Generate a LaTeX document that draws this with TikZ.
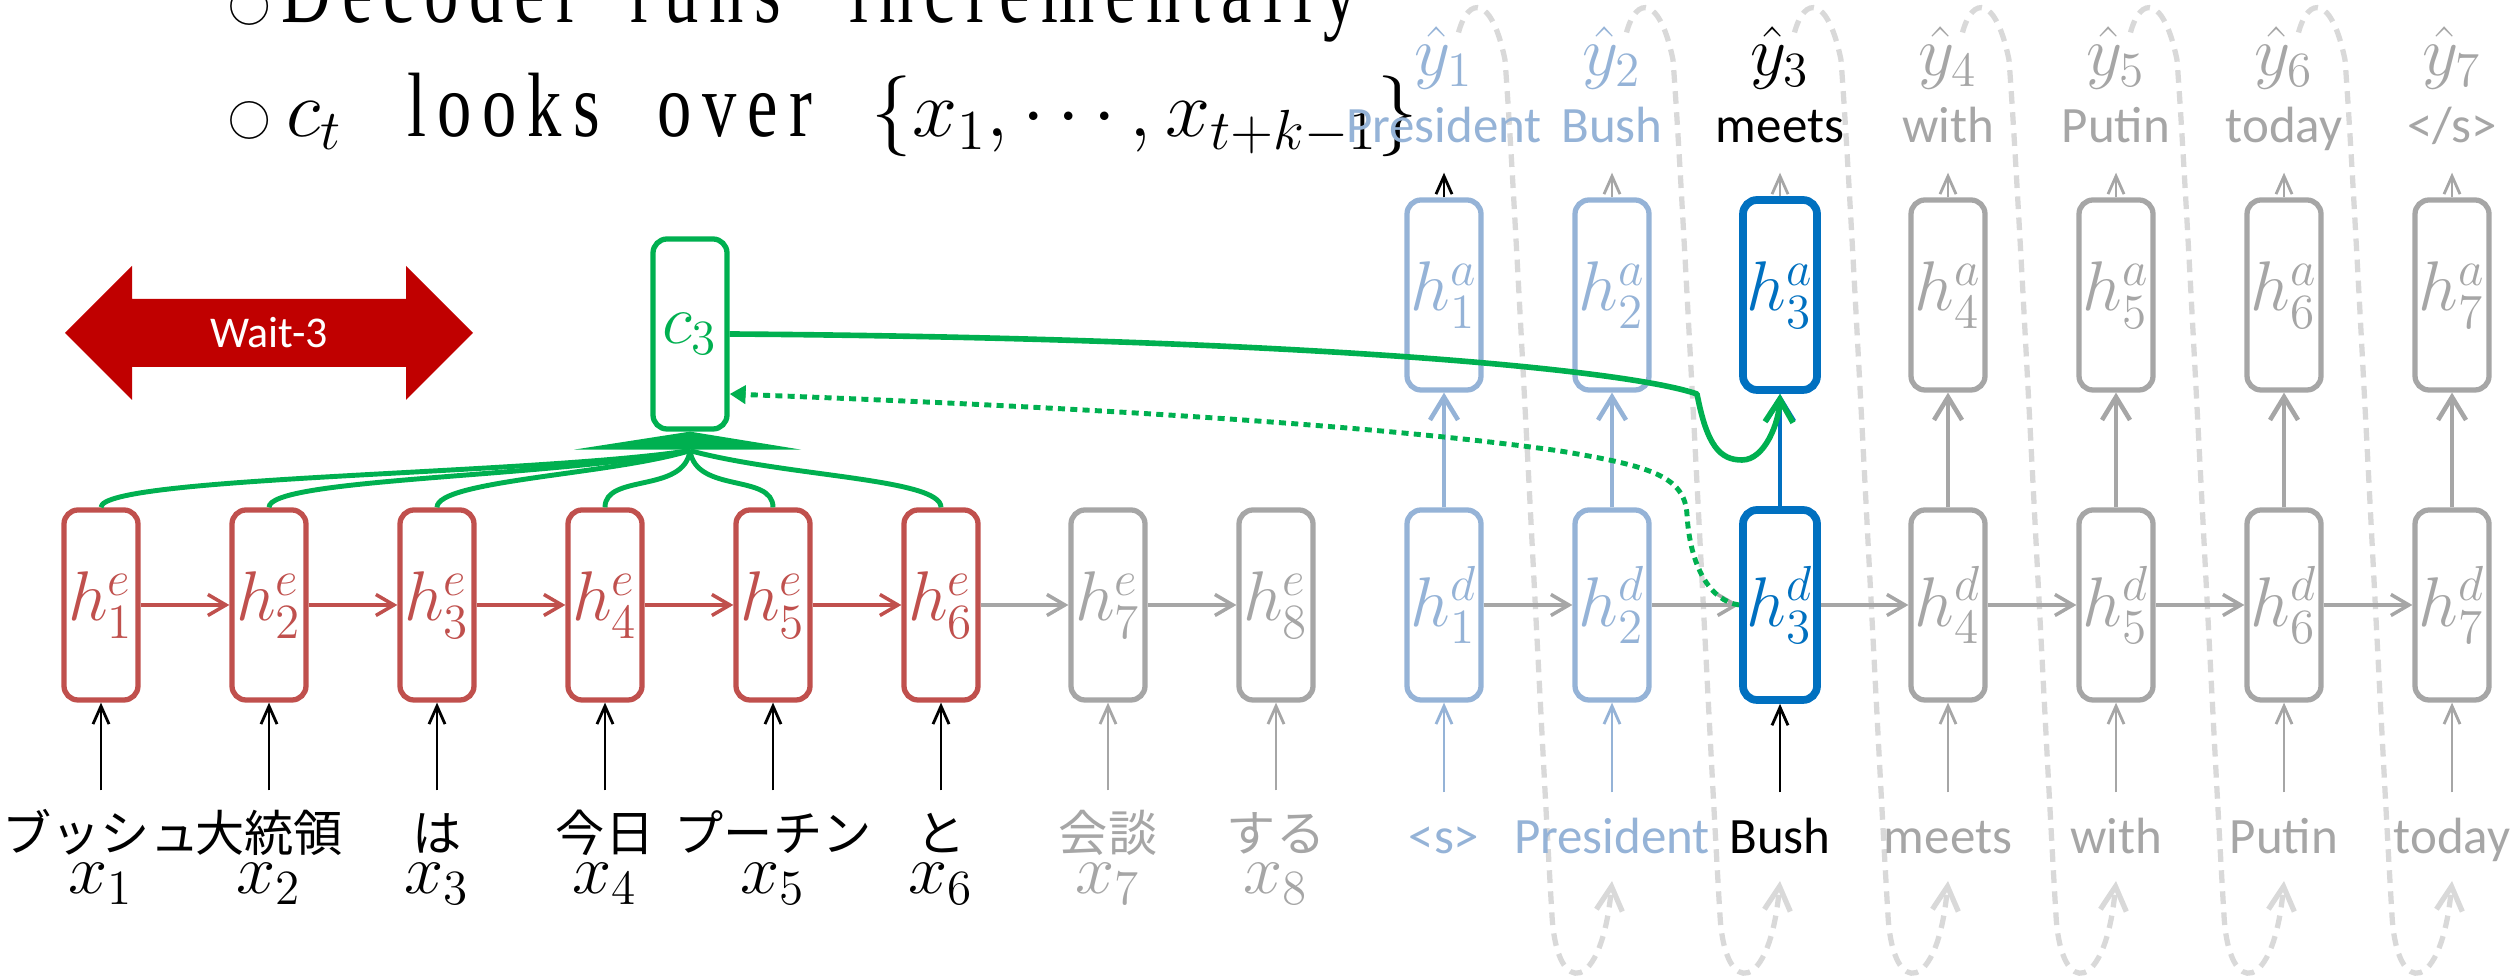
\RequirePackage{fix-cm}
\documentclass[tikz,border=0pt]{standalone}
\usepackage{fontspec}
\setmainfont{Carlito}
\newfontfamily\jpfont{Noto Sans CJK JP}
\newfontfamily\titlefont[FakeStretch=0.75]{Liberation Serif}
\usepackage{xcolor}
\usepackage{tikz}
\usetikzlibrary{arrows.meta,calc,backgrounds}

\definecolor{encred}{HTML}{C0504D}
\definecolor{idlegray}{HTML}{A6A6A6}
\definecolor{doneblue}{HTML}{95B3D7}
\definecolor{nowblue}{HTML}{0070C0}
\definecolor{ctxgreen}{HTML}{00B050}
\definecolor{waitred}{HTML}{C00000}
\definecolor{fadegray}{HTML}{D9D9D9}

% spaced-out letters for the slide text
\newcommand\spreadword[1]{\spreadloop#1\relax}
\def\spreadloop#1{\ifx#1\relax\else#1\kern3.1pt\expandafter\spreadloop\fi}

\begin{document}
\begin{tikzpicture}[
		cell/.style={draw, fill=white, line width=1.5pt, rounded corners=4pt,
				minimum width=0.74cm, minimum height=1.9cm, inner sep=0pt, font=\fontsize{20}{22}\selectfont},
		encbox/.style={cell, draw=encred, text=encred},
		idlebox/.style={cell, draw=idlegray, text=idlegray},
		donebox/.style={cell, draw=doneblue, text=doneblue},
		nowbox/.style={cell, draw=nowblue, text=nowblue, line width=2.2pt},
		ctxbox/.style={cell, draw=ctxgreen, text=ctxgreen},
		jpword/.style={font=\jpfont\fontsize{14}{16}\selectfont, anchor=base, inner sep=0pt, text height=0.61cm},
		inword/.style={font=\fontsize{14.5}{17}\selectfont, anchor=base, inner sep=0pt, text height=0.61cm},
		outword/.style={font=\fontsize{14.5}{17}\selectfont, anchor=base, inner sep=0pt, text depth=0.29cm},
		sym/.style={font=\fontsize{20}{22}\selectfont, anchor=base, inner sep=0pt},
		bigtext/.style={font=\titlefont\fontsize{26}{30}\selectfont, anchor=base west, inner sep=0pt},
		bigmath/.style={font=\fontsize{23}{28}\selectfont, anchor=base west, inner sep=0pt},
		ring/.style={font=\jpfont\fontsize{12}{14}\selectfont, anchor=base west, inner sep=0pt},
		ar/.style={-{Straight Barb[length=1.8mm,width=2.1mm]}, line width=1pt},
		inar/.style={-{Straight Barb[length=1.8mm,width=1.6mm]}, line width=0.8pt},
		upar/.style={-{Straight Barb[length=2.3mm,width=2.8mm]}, line width=1.3pt},
		fanline/.style={draw=ctxgreen, line width=1.4pt},
		gar/.style={draw=ctxgreen, line width=1.6pt, line join=round, -{Straight Barb[length=2.3mm,width=2.8mm]}},
		dotar/.style={draw=ctxgreen, line width=1.4pt, dash pattern=on 2pt off 1.5pt, -{Triangle[length=1.6mm,width=1.8mm]}},
		feedback/.style={draw=fadegray, line width=1.5pt, dash pattern=on 3.6pt off 2.4pt, -{Straight Barb[length=2.4mm,width=2.6mm]}},
	]
	\useasboundingbox (0,0) rectangle (25.2,9.76);
	\clip (0,0) rectangle (25.2,9.76);

	\node[ring]    (dot1)  at (2.28,9.53) {○};
	\node[bigtext] (dec)   at (2.81,9.53) {\spreadword{Decoder}};
	\node[bigtext] (runs)  at (6.30,9.53) {\spreadword{runs}};
	\node[bigtext] (incr)  at (8.49,9.53) {\spreadword{incrementally}};
	\node[ring]    (dot2)  at (2.28,8.39) {○};
	\node[bigmath] (ct)    at (2.86,8.39) {$c_t$};
	\node[bigtext] (looks) at (4.07,8.39) {\spreadword{looks}};
	\node[bigtext] (over)  at (6.57,8.39) {\spreadword{over}};
	\node[bigmath] (span)  at (8.71,8.39) {$\{x_1,\cdots,x_{t+k-1}\}$};

	\fill[waitred] (0.65,6.43) -- (1.32,7.10) -- (1.32,6.77) -- (4.06,6.77) -- (4.06,7.10)
		-- (4.73,6.43) -- (4.06,5.76) -- (4.06,6.09) -- (1.32,6.09) -- (1.32,5.76) -- cycle;
	\node[font=\fontsize{12.5}{14}\selectfont, text=white] (wait) at (2.69,6.43) {Wait-3};

	\node[encbox]  (he1) at ( 1.01,3.71) {$h^e_1$};
	\node[encbox]  (he2) at ( 2.69,3.71) {$h^e_2$};
	\node[encbox]  (he3) at ( 4.37,3.71) {$h^e_3$};
	\node[encbox]  (he4) at ( 6.05,3.71) {$h^e_4$};
	\node[encbox]  (he5) at ( 7.73,3.71) {$h^e_5$};
	\node[encbox]  (he6) at ( 9.41,3.71) {$h^e_6$};
	\node[idlebox] (he7) at (11.08,3.71) {$h^e_7$};
	\node[idlebox] (he8) at (12.76,3.71) {$h^e_8$};
	\draw[ar, encred] (he1) -- (he2);
	\draw[ar, encred] (he2) -- (he3);
	\draw[ar, encred] (he3) -- (he4);
	\draw[ar, encred] (he4) -- (he5);
	\draw[ar, encred] (he5) -- (he6);
	\draw[ar, idlegray] (he6) -- (he7);
	\draw[ar, idlegray] (he7) -- (he8);

	\node[jpword] (w1) at ( 1.01,1.24) {ブッシュ};
	\node[jpword] (w2) at ( 2.69,1.24) {大統領};
	\node[jpword] (w3) at ( 4.37,1.24) {は};
	\node[jpword] (w4) at ( 6.05,1.24) {今日};
	\node[jpword] (w5) at ( 7.73,1.24) {プーチン};
	\node[jpword] (w6) at ( 9.41,1.24) {と};
	\node[jpword, text=idlegray] (w7) at (11.08,1.24) {会談};
	\node[jpword, text=idlegray] (w8) at (12.76,1.24) {する};
	\node[sym] (x1) at ( 1.01,0.82) {$x_1$};
	\node[sym] (x2) at ( 2.69,0.82) {$x_2$};
	\node[sym] (x3) at ( 4.37,0.82) {$x_3$};
	\node[sym] (x4) at ( 6.05,0.82) {$x_4$};
	\node[sym] (x5) at ( 7.73,0.82) {$x_5$};
	\node[sym] (x6) at ( 9.41,0.82) {$x_6$};
	\node[sym, text=idlegray] (x7) at (11.08,0.82) {$x_7$};
	\node[sym, text=idlegray] (x8) at (12.76,0.82) {$x_8$};
	\draw[inar] (w1) -- (he1);
	\draw[inar] (w2) -- (he2);
	\draw[inar] (w3) -- (he3);
	\draw[inar] (w4) -- (he4);
	\draw[inar] (w5) -- (he5);
	\draw[inar] (w6) -- (he6);
	\draw[inar, idlegray] (w7) -- (he7);
	\draw[inar, idlegray] (w8) -- (he8);

	\node[donebox] (hd1) at (14.44,3.71) {$h^d_1$};
	\node[donebox] (hd2) at (16.12,3.71) {$h^d_2$};
	\node[nowbox]  (hd3) at (17.80,3.71) {$h^d_3$};
	\node[idlebox] (hd4) at (19.48,3.71) {$h^d_4$};
	\node[idlebox] (hd5) at (21.16,3.71) {$h^d_5$};
	\node[idlebox] (hd6) at (22.84,3.71) {$h^d_6$};
	\node[idlebox] (hd7) at (24.52,3.71) {$h^d_7$};
	\node[donebox] (ha1) at (14.44,6.81) {$h^a_1$};
	\node[donebox] (ha2) at (16.12,6.81) {$h^a_2$};
	\node[nowbox]  (ha3) at (17.80,6.81) {$h^a_3$};
	\node[idlebox] (ha4) at (19.48,6.81) {$h^a_4$};
	\node[idlebox] (ha5) at (21.16,6.81) {$h^a_5$};
	\node[idlebox] (ha6) at (22.84,6.81) {$h^a_6$};
	\node[idlebox] (ha7) at (24.52,6.81) {$h^a_7$};
	\draw[ar, idlegray] (hd1) -- (hd2);
	\draw[ar, idlegray] (hd2) -- (hd3);
	\draw[ar, idlegray] (hd3) -- (hd4);
	\draw[ar, idlegray] (hd4) -- (hd5);
	\draw[ar, idlegray] (hd5) -- (hd6);
	\draw[ar, idlegray] (hd6) -- (hd7);
	\draw[upar, doneblue] (hd1) -- (ha1);
	\draw[upar, doneblue] (hd2) -- (ha2);
	\draw[upar, nowblue]  (hd3) -- (ha3);
	\draw[upar, idlegray] (hd4) -- (ha4);
	\draw[upar, idlegray] (hd5) -- (ha5);
	\draw[upar, idlegray] (hd6) -- (ha6);
	\draw[upar, idlegray] (hd7) -- (ha7);

	\node[inword, text=doneblue] (i1) at (14.44,1.22) {<s>};
	\node[inword, text=doneblue] (i2) at (16.12,1.22) {President};
	\node[inword]                (i3) at (17.80,1.22) {Bush};
	\node[inword, text=idlegray] (i4) at (19.48,1.22) {meets};
	\node[inword, text=idlegray] (i5) at (21.16,1.22) {with};
	\node[inword, text=idlegray] (i6) at (22.84,1.22) {Putin};
	\node[inword, text=idlegray] (i7) at (24.52,1.22) {today};
	\draw[inar, doneblue] (i1) -- (hd1);
	\draw[inar, doneblue] (i2) -- (hd2);
	\draw[inar]           (i3) -- (hd3);
	\draw[inar, idlegray] (i4) -- (hd4);
	\draw[inar, idlegray] (i5) -- (hd5);
	\draw[inar, idlegray] (i6) -- (hd6);
	\draw[inar, idlegray] (i7) -- (hd7);

	\node[outword, text=doneblue] (o1) at (14.44,8.33) {President};
	\node[outword, text=doneblue] (o2) at (16.12,8.33) {Bush};
	\node[outword]                (o3) at (17.80,8.33) {meets};
	\node[outword, text=idlegray] (o4) at (19.48,8.33) {with};
	\node[outword, text=idlegray] (o5) at (21.16,8.33) {Putin};
	\node[outword, text=idlegray] (o6) at (22.84,8.33) {today};
	\node[outword, text=idlegray] (o7) at (24.52,8.33) {</s>};
	\node[sym, text=doneblue] (yh1) at (14.44,9.0) {$\hat{y}_1$};
	\node[sym, text=doneblue] (yh2) at (16.12,9.0) {$\hat{y}_2$};
	\node[sym]                (yh3) at (17.80,9.0) {$\hat{y}_3$};
	\node[sym, text=idlegray] (yh4) at (19.48,9.0) {$\hat{y}_4$};
	\node[sym, text=idlegray] (yh5) at (21.16,9.0) {$\hat{y}_5$};
	\node[sym, text=idlegray] (yh6) at (22.84,9.0) {$\hat{y}_6$};
	\node[sym, text=idlegray] (yh7) at (24.52,9.0) {$\hat{y}_7$};
	\draw[inar]           (ha1) -- (o1);
	\draw[inar, idlegray] (ha2) -- (o2);
	\draw[inar, idlegray] (ha3) -- (o3);
	\draw[inar, idlegray] (ha4) -- (o4);
	\draw[inar, idlegray] (ha5) -- (o5);
	\draw[inar, idlegray] (ha6) -- (o6);
	\draw[inar, idlegray] (ha7) -- (o7);

	\begin{scope}[on background layer]
		\draw[feedback] ($(yh1.north)+(0.145,-0.06)$) .. controls +(0.10,0.37) and +(-0.13,0.64) .. (15.05,9.16)
			.. controls +(0.11,-1.45) and +(-0.11,1.82) .. (15.52,0.60)
			.. controls +(0.05,-0.84) and +(-0.10,-1.11) .. ($(i2.base)+(0,-0.27)$);
		\draw[feedback] ($(yh2.north)+(0.145,-0.06)$) .. controls +(0.10,0.37) and +(-0.13,0.64) .. (16.73,9.16)
			.. controls +(0.11,-1.45) and +(-0.11,1.82) .. (17.20,0.60)
			.. controls +(0.05,-0.84) and +(-0.10,-1.11) .. ($(i3.base)+(0,-0.27)$);
		\draw[feedback] ($(yh3.north)+(0.145,-0.06)$) .. controls +(0.10,0.37) and +(-0.13,0.64) .. (18.41,9.16)
			.. controls +(0.11,-1.45) and +(-0.11,1.82) .. (18.88,0.60)
			.. controls +(0.05,-0.84) and +(-0.10,-1.11) .. ($(i4.base)+(0,-0.27)$);
		\draw[feedback] ($(yh4.north)+(0.145,-0.06)$) .. controls +(0.10,0.37) and +(-0.13,0.64) .. (20.09,9.16)
			.. controls +(0.11,-1.45) and +(-0.11,1.82) .. (20.56,0.60)
			.. controls +(0.05,-0.84) and +(-0.10,-1.11) .. ($(i5.base)+(0,-0.27)$);
		\draw[feedback] ($(yh5.north)+(0.145,-0.06)$) .. controls +(0.10,0.37) and +(-0.13,0.64) .. (21.77,9.16)
			.. controls +(0.11,-1.45) and +(-0.11,1.82) .. (22.24,0.60)
			.. controls +(0.05,-0.84) and +(-0.10,-1.11) .. ($(i6.base)+(0,-0.27)$);
		\draw[feedback] ($(yh6.north)+(0.145,-0.06)$) .. controls +(0.10,0.37) and +(-0.13,0.64) .. (23.45,9.16)
			.. controls +(0.11,-1.45) and +(-0.11,1.82) .. (23.92,0.60)
			.. controls +(0.05,-0.84) and +(-0.10,-1.11) .. ($(i7.base)+(0,-0.27)$);
	\end{scope}

	\node[ctxbox] (c3) at (6.90,6.42) {$c_3$};
	\fill[ctxgreen] (c3.south) -- ++(-1.16,-0.18) -- ++(2.27,0) -- cycle;
	\coordinate (fan) at ($(c3.south)+(0,-0.19)$);
	\draw[fanline] (he1.north) .. controls +(0,0.31) and +(-1.59,-0.24) .. (fan);
	\draw[fanline] (he2.north) .. controls +(0,0.29) and +(-1.43,-0.27) .. (fan);
	\draw[fanline] (he3.north) .. controls +(0,0.27) and +(-0.79,-0.24) .. (fan);
	\draw[fanline] (he4.north) .. controls +(0,0.34) and +(-0.06,-0.43) .. (fan);
	\draw[fanline] (he5.north) .. controls +(0,0.34) and +(0.06,-0.43) .. (fan);
	\draw[fanline] (he6.north) .. controls +(0,0.29) and +(0.96,-0.26) .. (fan);
	\draw[gar] (c3.east) .. controls (12.86,6.38) and (16.23,6.075) .. (16.97,5.82)
		.. controls (17.07,5.30) and (17.20,5.16) .. (17.42,5.16)
		.. controls (17.65,5.16) and (17.79,5.54) .. (ha3.south);
	\draw[dotar] (hd3.west) .. controls (17.1,3.75) and (16.9,4.1) .. (16.87,4.61)
		.. controls (16.85,5.0) and (16.5,5.1) .. (15.6,5.25)
		.. controls (13.5,5.55) and (10,5.72) .. ($(c3.east)+(0,-0.60)$);
\end{tikzpicture}
\end{document}
